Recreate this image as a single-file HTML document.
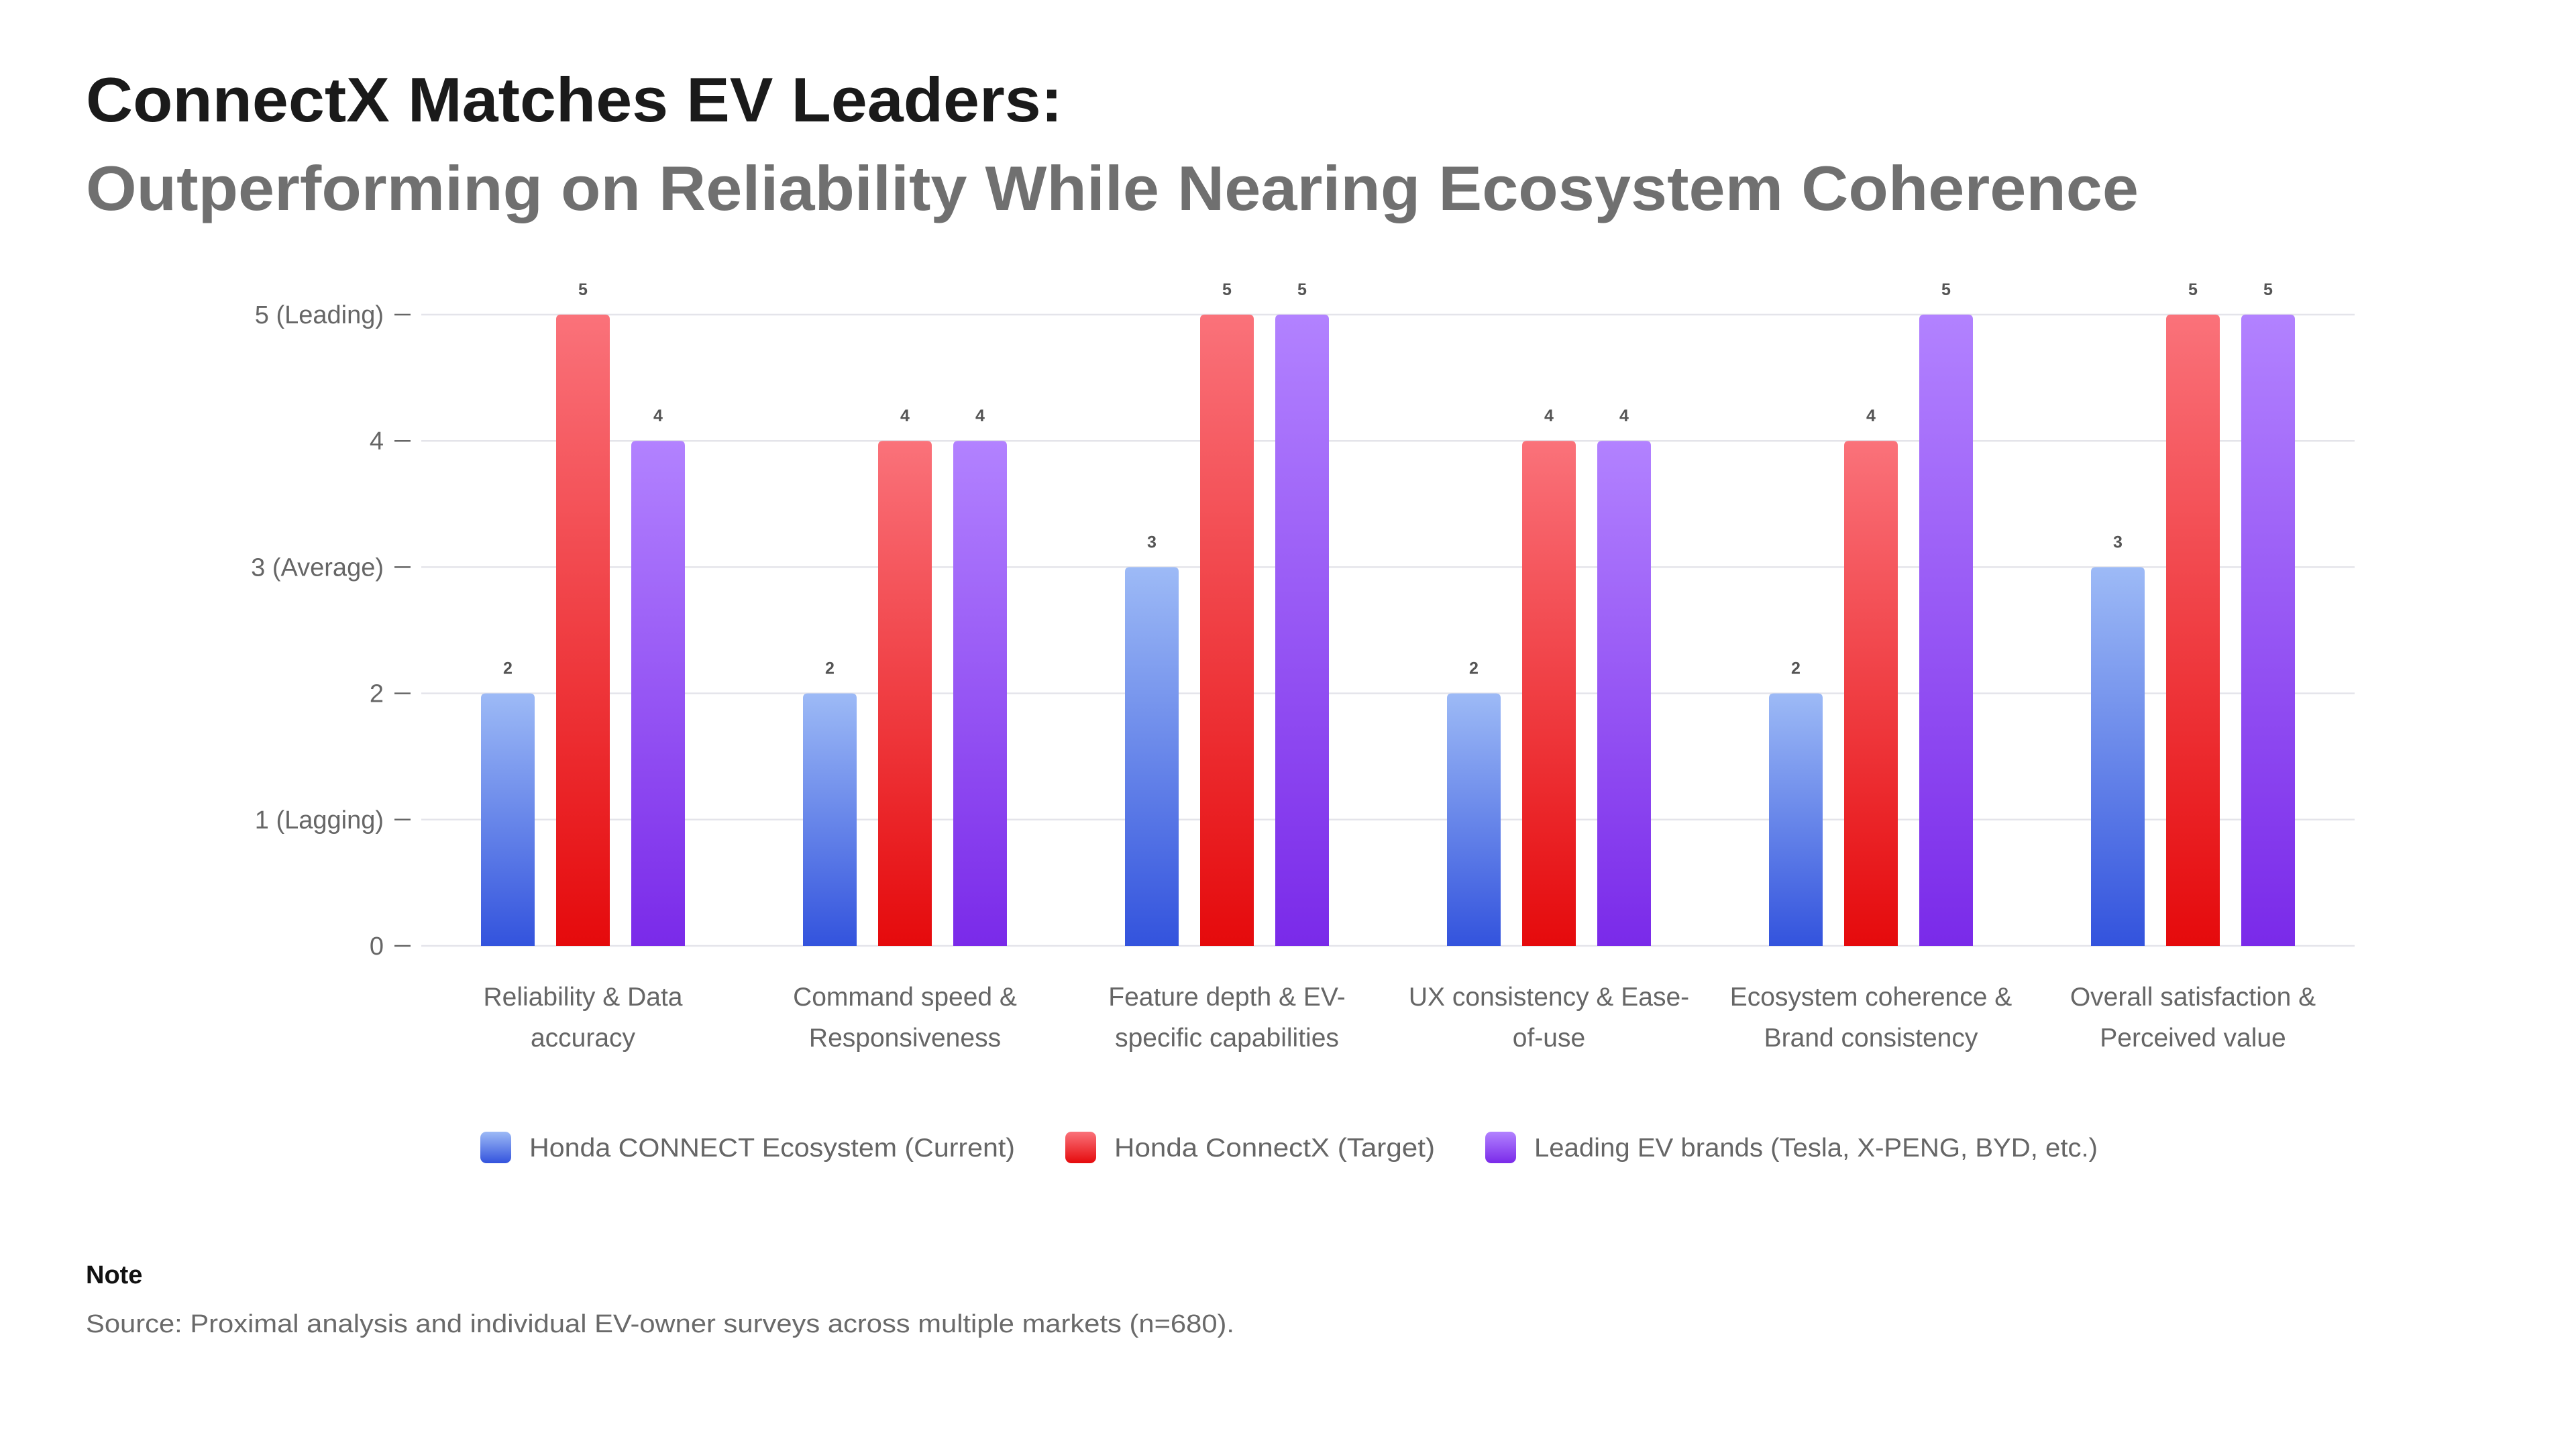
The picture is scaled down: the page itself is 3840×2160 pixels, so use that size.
<!DOCTYPE html>
<html><head><meta charset="utf-8"><style>
html,body{margin:0;padding:0;background:#fff;}
svg{display:block;font-family:"Liberation Sans",Arial,sans-serif;}
</style></head><body>
<svg id="chart" width="3840" height="2160" viewBox="0 0 3840 2160" xmlns="http://www.w3.org/2000/svg">
<defs>
<linearGradient id="gBlue" x1="0" y1="0" x2="0" y2="1"><stop offset="0" stop-color="#9dbaf6"/><stop offset="1" stop-color="#3353dd"/></linearGradient>
<linearGradient id="gRed" x1="0" y1="0" x2="0" y2="1"><stop offset="0" stop-color="#fa727a"/><stop offset="1" stop-color="#e50a0c"/></linearGradient>
<linearGradient id="gPurple" x1="0" y1="0" x2="0" y2="1"><stop offset="0" stop-color="#b282ff"/><stop offset="1" stop-color="#7a2ae9"/></linearGradient>
</defs>
<text x="128" y="181" font-size="94" font-weight="bold" fill="#1a1a1a" textLength="1456" lengthAdjust="spacingAndGlyphs">ConnectX Matches EV Leaders:</text>
<text x="128" y="313" font-size="94" font-weight="bold" fill="#707070" textLength="3060" lengthAdjust="spacingAndGlyphs">Outperforming on Reliability While Nearing Ecosystem Coherence</text>
<g id="grid"></g>
<g id="yaxis"></g>
<g id="bars"></g>
<g id="xlabels"></g>
<g id="legend"></g>
<text x="128" y="1913" font-size="38" font-weight="bold" fill="#111">Note</text>
<text x="128" y="1986" font-size="38" fill="#6a6a6a" textLength="1712" lengthAdjust="spacingAndGlyphs">Source: Proximal analysis and individual EV-owner surveys across multiple markets (n=680).</text>
</svg>
<script>
const categories = [["Reliability & Data","accuracy"],["Command speed &","Responsiveness"],["Feature depth & EV-","specific capabilities"],["UX consistency & Ease-","of-use"],["Ecosystem coherence &","Brand consistency"],["Overall satisfaction &","Perceived value"]];
const currentValues = [2,2,3,2,2,3];
const targetValues = [5,4,5,4,4,5];
const leaderValues = [4,4,5,4,5,5];
const seriesNames = ["Honda CONNECT Ecosystem (Current)","Honda ConnectX (Target)","Leading EV brands (Tesla, X-PENG, BYD, etc.)"];
const tickValues = [0,1,2,3,4,5];
const tickLabels = ["0","1 (Lagging)","2","3 (Average)","4","5 (Leading)"];

const NS="http://www.w3.org/2000/svg";
const plotL=628, plotR=3510, y0=1410, unit=188.2;
const yScale=v=>y0-v*unit;
const groupW=480;
const xCenter=i=>plotL+241+groupW*i;
const barW=80, gap=32;
const fills=["url(#gBlue)","url(#gRed)","url(#gPurple)"];
const series=[currentValues,targetValues,leaderValues];
const legLens=[724,478,840];
function mk(tag,attrs,parent,text){const e=document.createElementNS(NS,tag);for(const k in attrs)e.setAttribute(k,attrs[k]);if(text!==undefined)e.textContent=text;parent.appendChild(e);return e;}
const grid=document.getElementById('grid'), yaxis=document.getElementById('yaxis');
tickValues.forEach((t,i)=>{
  const y=yScale(t);
  const gl=mk('line',{x1:plotL,x2:plotR,y1:y,y2:y,stroke:'#e4e4ea','stroke-width':2.5},grid);
  
  
  const tk=mk('line',{x1:588,x2:612,y1:y,y2:y,stroke:'#666','stroke-width':2.5},yaxis);
  
  
  const lb=mk('text',{x:572,y:y+13,'font-size':38,fill:'#666','text-anchor':'end'},yaxis,tickLabels[i]);
  
  
});
const bars=document.getElementById('bars'), xl=document.getElementById('xlabels');
categories.forEach((c,i)=>{
  const cx=xCenter(i);
  series.forEach((s,k)=>{
    const bx=cx+(k-1)*(barW+gap)-barW/2;
    const top=yScale(s[i]);
    const r=mk('path',{d:`M${bx},${y0} V${top+7} Q${bx},${top} ${bx+7},${top} H${bx+barW-7} Q${bx+barW},${top} ${bx+barW},${top+7} V${y0} Z`,fill:fills[k]},bars);
    
    
    const v=mk('text',{x:bx+barW/2,y:top-29,'font-size':25,'font-weight':'bold',fill:'#555','text-anchor':'middle'},bars,String(s[i]));
    
    
  });
  c.forEach((line,j)=>{
    const t=mk('text',{x:cx,y:1499+j*61,'font-size':39,fill:'#666','text-anchor':'middle'},xl,line);
    
    
  });
});
const legend=document.getElementById('legend');
const legX=[716,1588,2214];
seriesNames.forEach((n,k)=>{
  const sw=mk('rect',{x:legX[k],y:1687,width:46,height:47,rx:9,fill:fills[k]},legend);
  
  
  const t=mk('text',{x:legX[k]+73,y:1724,'font-size':39,fill:'#666',textLength:legLens[k],lengthAdjust:'spacingAndGlyphs'},legend,n);
  
  
});
</script>
</body></html>
